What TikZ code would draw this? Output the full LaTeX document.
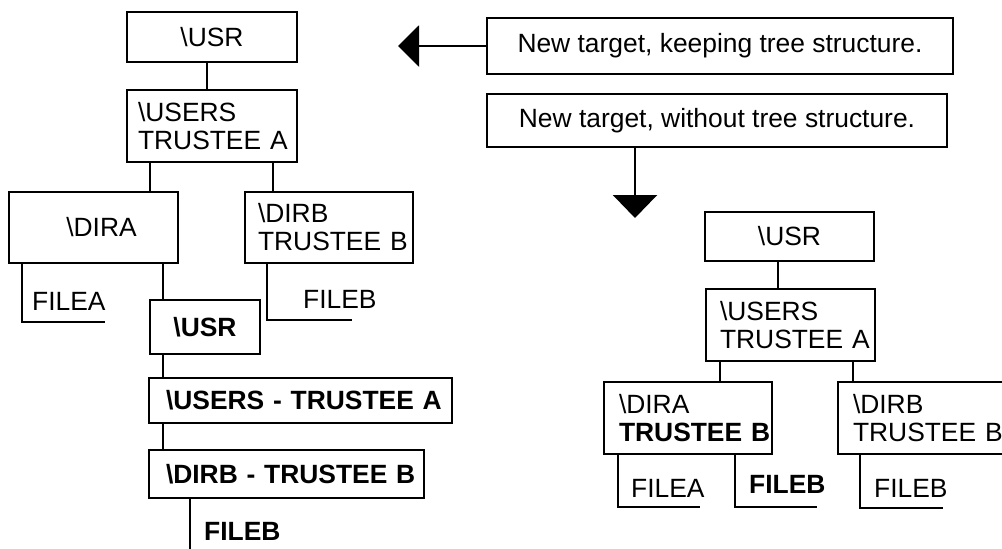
\documentclass[tikz,border=0pt]{standalone}
\usepackage{fontspec}
\setmainfont{Liberation Sans}
\usetikzlibrary{arrows.meta}
\begin{document}
\begin{tikzpicture}[x=1pt,y=-1pt,
  line width=2.4pt,
  every node/.style={font=\fontsize{26.4pt}{28pt}\selectfont},
  box/.style={draw, line width=2.4pt, rectangle, inner ysep=2pt},
  cbox/.style={box, align=center},
  bf/.style={font=\fontsize{26.4pt}{28pt}\selectfont\bfseries},
  lbl/.style={inner sep=0pt, anchor=base west},
]
\useasboundingbox (0,0) rectangle (1002,549);

% ---------- left tree ----------
\node[cbox, minimum width=170pt, minimum height=50pt] (usr) at (212,37) {\textbackslash USR};
\node[box, align=left, inner xsep=11pt, text width=148pt, minimum height=72pt] (users) at (212,126)
  {\mbox{\textbackslash USERS}\\\mbox{TRUSTEE A}};
\node[cbox, minimum width=169pt, minimum height=71pt] (dira) at (93.5,227.5) {\hspace{16pt}\textbackslash DIRA};
\node[box, align=left, inner xsep=13pt, text width=142pt, minimum height=71pt] (dirb) at (329,227.5)
  {\mbox{\textbackslash DIRB}\\\mbox{TRUSTEE B}};

\draw ([xshift=-5pt]usr.south) -- ([xshift=-5pt]users.north);
\draw ([xshift=-62pt]users.south) -- ([xshift=56.5pt]dira.north);
\draw ([xshift=61pt]users.south) -- ([xshift=-56pt]dirb.north);

\node[lbl] (fa) at (31,310) {FILEA};
\coordinate (fae) at (105,322);
\draw ([xshift=-71.5pt]dira.south) |- (fae);

\node[lbl] (fb) at (302,308) {FILEB};
\coordinate (fbe) at (352,320);
\draw ([xshift=-62pt]dirb.south) |- (fbe);

\node[cbox, bf, minimum width=110pt, minimum height=54pt] (busr) at (205,327) {\textbackslash USR};
\draw ([xshift=69.5pt]dira.south) -- ([xshift=-42pt]busr.north);

\node[box, bf, align=left, inner xsep=17pt, text width=269pt, minimum height=45pt] (busers) at (300.5,400.5)
  {\mbox{\textbackslash USERS - TRUSTEE A}};
\draw ([xshift=-42pt]busr.south) -- ([xshift=-137.5pt]busers.north);

\node[box, bf, align=left, inner xsep=17pt, text width=241pt, minimum height=48pt] (bdirb) at (286.5,474)
  {\mbox{\textbackslash DIRB - TRUSTEE B}};
\draw ([xshift=-137.5pt]busers.south) -- ([xshift=-123.5pt]bdirb.north);

\node[lbl, bf] (bfb) at (203,540) {FILEB};
\coordinate (bfbe) at (190,552);
\draw ([xshift=-96.5pt]bdirb.south) -- (bfbe);

% ---------- top right ----------
\node[cbox, minimum width=466pt, minimum height=56pt] (keep) at (720,46) {New target, keeping tree structure.};
\coordinate (keeptip) at (398,46);
\draw[-{Triangle[length=21pt,width=41pt]}] (keep.west) -- (keeptip);

\node[cbox, minimum width=460pt, minimum height=53pt] (without) at (717,120.5) {New target, without tree structure.};
\coordinate (withtip) at (635,218);
\draw[-{Triangle[length=23pt,width=44pt]}] ([xshift=-82pt]without.south) -- (withtip);

% ---------- right tree ----------
\node[cbox, minimum width=169pt, minimum height=49pt] (rusr) at (789.5,236.5) {\textbackslash USR};
\node[box, align=left, inner xsep=14pt, text width=141pt, minimum height=72pt] (rusers) at (790.5,325)
  {\mbox{\textbackslash USERS}\\\mbox{TRUSTEE A}};
\draw ([xshift=-11.5pt]rusr.south) -- ([xshift=-12.5pt]rusers.north);

\node[box, align=left, inner xsep=15pt, text width=138pt, minimum height=72pt] (rdira) at (688,418)
  {\mbox{\textbackslash DIRA}\\\mbox{\bfseries TRUSTEE B}};
\node[box, align=left, inner xsep=15pt, text width=144pt, minimum height=72pt] (rdirb) at (925,418)
  {\mbox{\textbackslash DIRB}\\\mbox{TRUSTEE B}};
\draw ([xshift=-70.5pt]rusers.south) -- ([xshift=32pt]rdira.north);
\draw ([xshift=62.5pt]rusers.south) -- ([xshift=-72pt]rdirb.north);

\node[lbl] (rfa) at (630,497) {FILEA};
\coordinate (rfae) at (700,507);
\draw ([xshift=-70pt]rdira.south) |- (rfae);

\node[lbl, bf] (rbfb) at (748,493) {FILEB};
\coordinate (rbfbe) at (817,507);
\draw ([xshift=47pt]rdira.south) |- (rbfbe);

\node[lbl] (rfb) at (873,497) {FILEB};
\coordinate (rfbe) at (943,508);
\draw ([xshift=-65pt]rdirb.south) |- (rfbe);
\end{tikzpicture}
\end{document}
